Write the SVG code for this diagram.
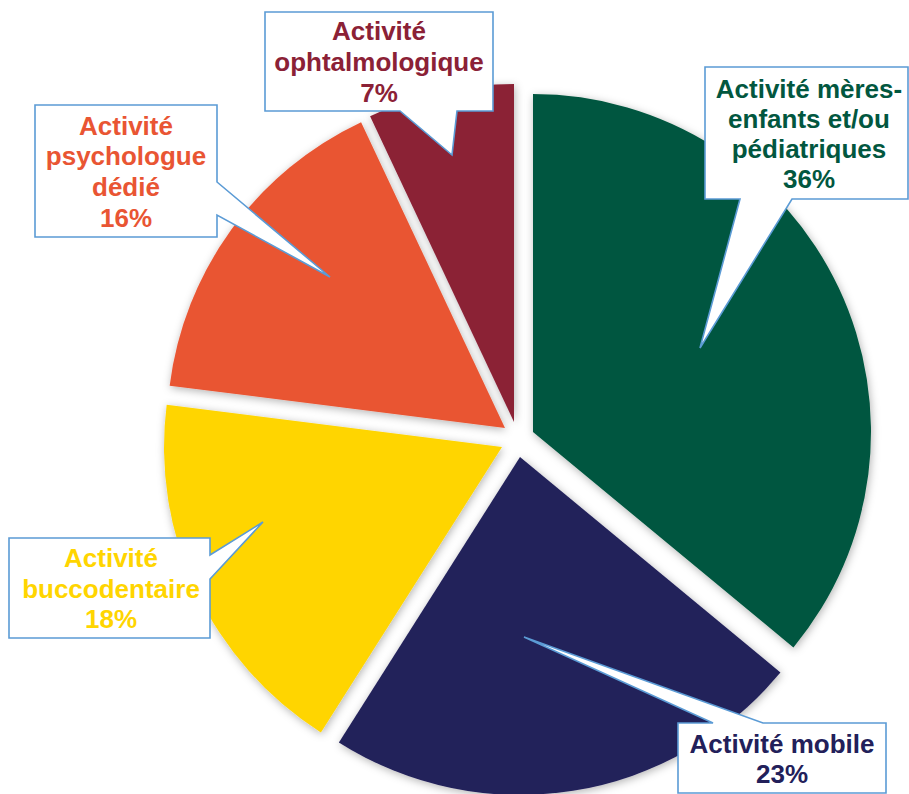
<svg xmlns="http://www.w3.org/2000/svg" width="909" height="794" viewBox="0 0 909 794">
<defs>
<filter id="sh" x="-20%" y="-20%" width="140%" height="140%">
<feDropShadow dx="1" dy="2" stdDeviation="4" flood-color="#000" flood-opacity="0.3"/>
</filter>
</defs>
<style>
.slice{filter:url(#sh);}
.call{fill:#fff;stroke:#5B9BD5;stroke-width:1.6;stroke-linejoin:miter;}
.t{font-family:"Liberation Sans",Arial,sans-serif;font-weight:bold;font-size:26px;text-anchor:middle;}
</style>
<rect width="909" height="794" fill="#fff"/>
<g id="slices">
<path id="s-green" class="slice" fill="#02573F" d="M533,432 L533,94 A338,338 0 0 1 793.43,647.45 Z"/>
<path id="s-navy" class="slice" fill="#22205A" d="M520,457 L780.43,672.45 A338,338 0 0 1 338.89,742.38 Z"/>
<path id="s-yellow" class="slice" fill="#FFD500" d="M502,447 L320.89,732.38 A338,338 0 0 1 166.67,404.64 Z"/>
<path id="s-orange" class="slice" fill="#E95533" d="M505,428 L169.67,385.64 A338,338 0 0 1 361.09,122.17 Z"/>
<path id="s-maroon" class="slice" fill="#8B2136" d="M514,422 L370.09,116.17 A338,338 0 0 1 514,84 Z"/>
</g>
<g id="connectors"></g>
<g id="label-ophtalmo">
<path class="call" d="M265,12 H493 V111 H457 L452,155 L400,111 H265 Z"/>
<text class="t" fill="#8B2136" x="379" y="40">Activité</text>
<text class="t" fill="#8B2136" x="379" y="71">ophtalmologique</text>
<text class="t" fill="#8B2136" x="379" y="102">7%</text>
</g>
<g id="label-meres">
<path class="call" d="M705,67 H908 V199 H792 L700,348 L740,199 H705 Z"/>
<text class="t" fill="#02573F" x="809" y="98">Activité mères-</text>
<text class="t" fill="#02573F" x="809" y="128">enfants et/ou</text>
<text class="t" fill="#02573F" x="809" y="158">pédiatriques</text>
<text class="t" fill="#02573F" x="809" y="188">36%</text>
</g>
<g id="label-psy">
<path class="call" d="M35,105 H217 V182 L330,277 L217,215 V237 H35 Z"/>
<text class="t" fill="#E95533" x="126" y="135">Activité</text>
<text class="t" fill="#E95533" x="126" y="165">psychologue</text>
<text class="t" fill="#E95533" x="126" y="196">dédié</text>
<text class="t" fill="#E95533" x="126" y="227">16%</text>
</g>
<g id="label-bucco">
<path class="call" d="M9,538 H210 V555 L263,522 L210,579 V638 H9 Z"/>
<text class="t" fill="#FFD500" x="111" y="567">Activité</text>
<text class="t" fill="#FFD500" x="111" y="598">buccodentaire</text>
<text class="t" fill="#FFD500" x="111" y="628">18%</text>
</g>
<g id="label-mobile">
<path class="call" d="M678,723 H713 L524,637 L763,723 H886 V793 H678 Z"/>
<text class="t" fill="#22205A" x="782" y="753">Activité mobile</text>
<text class="t" fill="#22205A" x="782" y="783">23%</text>
</g>
</svg>
